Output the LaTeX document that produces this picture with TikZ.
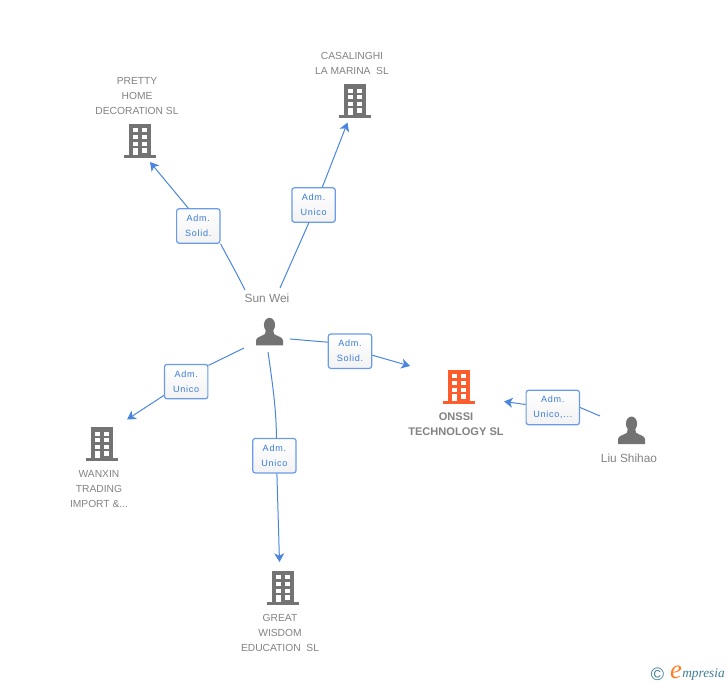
\documentclass[tikz,border=0pt]{standalone}
\usepackage{fontspec}
\setmainfont{Liberation Sans}
\newfontfamily\labelfont[LetterSpace=8]{Liberation Sans}
\newfontfamily\logofont{Liberation Serif}
\usetikzlibrary{arrows.meta}
\definecolor{icongray}{RGB}{115,115,115}
\definecolor{iconorange}{RGB}{255,92,46}
\definecolor{textgray}{RGB}{130,130,130}
\definecolor{linkblue}{RGB}{74,134,224}
\definecolor{boxblue}{RGB}{105,155,232}
\definecolor{admblue}{RGB}{58,123,219}
\definecolor{logoteal}{RGB}{60,125,150}
\tikzset{
  link/.style={draw=linkblue,line width=0.75pt},
  linkarrow/.style={link,-{Stealth[length=6.5pt,width=7.5pt,inset=1.8pt]}},
  admbox/.style={draw=boxblue,line width=0.9pt,rounded corners=1.8pt,top color=white,bottom color=white!95!black,
    minimum width=32.5pt,minimum height=25.8pt,inner sep=0pt,align=center,text=admblue,
    font=\labelfont\fontsize{6.8}{11.2}\selectfont},
  company/.style={text=textgray,align=center,inner sep=0pt,font=\fontsize{7.7}{11.25}\selectfont},
  personname/.style={text=textgray,inner sep=0pt,font=\fontsize{8.9}{11.25}\selectfont},
  pics/building/.style={code={
    \begin{scope}[yscale=-1]
    \fill [#1] (-11.3,0) rectangle (11.3,31);
    \fill [#1] (-15.8,31) rectangle (15.8,34);
    \foreach \wy in {4.3,11,17.6} {
      \fill [white] (-7.3,\wy) rectangle (-2.3,\wy+4);
      \fill [white] (2,\wy) rectangle (7.3,\wy+4);
    }
    \fill [white] (2,24) rectangle (7.3,28.5);
    \fill [white] (-7.3,24) rectangle (-2.5,31);
    \end{scope}
  }},
  pics/person/.style={code={
    \begin{scope}[yscale=-1]
    \fill [icongray] (0,7) ellipse (5.6 and 7.2);
    \fill [icongray] (-13.5,27.3) -- (-13.5,22.5) .. controls (-13.5,19) and (-8,18.5) .. (-4.5,16) -- (-3.5,11) -- (3.5,11) -- (4.5,16) .. controls (8,18.5) and (13.5,19) .. (13.5,22.5) -- (13.5,27.3) -- cycle ;
    \end{scope}
  }},
}

\begin{document}
\begin{tikzpicture}[x=0.75pt,y=0.75pt,yscale=-1,xscale=1]
\useasboundingbox (0,0) rectangle (728,685);

%Shape: icons
\pic at (140,124) {building=icongray};
\pic at (355,84.3) {building=icongray};
\pic at (102,427.3) {building=icongray};
\pic at (283,571) {building=icongray};
\pic at (459,370) {building=iconorange};
\pic at (269.5,318) {person};
\pic at (631.5,416.7) {person};

% Text Node
\node [company] (pretty) at (137,95.7) {PRETTY\\HOME\\DECORATION SL};
\node [company] (casalinghi) at (352,63.2) {CASALINGHI\\LA MARINA\ \ SL};
\node [company] (wanxin) at (99,488.7) {WANXIN\\TRADING\\IMPORT \&...};
\node [company] (great) at (280,632.7) {GREAT\\WISDOM\\EDUCATION\ \ SL};
\node [company,font=\bfseries\fontsize{8.3}{11.25}\selectfont] (onssi) at (456,424) {ONSSI\\TECHNOLOGY SL};
\node [personname] (sunwei) at (267,298.5) {Sun Wei};
\node [personname] (liushihao) at (629,458) {Liu Shihao};

% Label Nodes
\node [admbox] (admpretty) at (198.3,226) {Adm.\\Solid.};
\node [admbox] (admcasalinghi) at (313.6,205) {Adm.\\Unico};
\node [admbox] (admonssi) at (350,351.2) {Adm.\\Solid.};
\node [admbox] (admwanxin) at (186.2,381.6) {Adm.\\Unico};
\node [admbox] (admgreat) at (274.4,455.7) {Adm.\\Unico};
\node [admbox,minimum width=40pt] (admliu) at (552.8,407.5) {Adm.\\Unico,...};

% Free ends
\coordinate (prettyout) at (245,290);
\coordinate (prettyin) at (150,162);
\coordinate (casalinghiout) at (280,288);
\coordinate (casalinghiin) at (347.5,122.5);
\coordinate (onssiout) at (290,339);
\coordinate (onssiin) at (410,366);
\coordinate (wanxinout) at (244,348);
\coordinate (wanxinin) at (127,419.5);
\coordinate (greatout) at (268,352);
\coordinate (greatin) at (279.5,562);
\coordinate (liuout) at (600,416);
\coordinate (liuin) at (504,401.5);

%Connectors
\draw [link] (prettyout) .. controls (236,272) and (228,258) .. (admpretty.south east);
\draw [linkarrow] (admpretty.north) ++(-10,0) -- (prettyin);
\draw [link] (casalinghiout) -- (admcasalinghi.255);
\draw [linkarrow] (admcasalinghi.north) ++(8.7,0) -- (casalinghiin);
\draw [link] (onssiout) -- (admonssi.158);
\draw [linkarrow] (admonssi.east) ++(0,4) -- (onssiin);
\draw [link] (wanxinout) -- (admwanxin.36);
\draw [linkarrow] (admwanxin.south west) ++(0,-4) -- (wanxinin);
\draw [link] (greatout) .. controls (272,380) and (276.5,410) .. ([xshift=1.5pt]admgreat.north);
\draw [linkarrow] (admgreat.south) ++(2.5,0) -- (greatin);
\draw [link] (liuout) -- (admliu.east);
\draw [linkarrow] (admliu.west) ++(0,-3) -- (liuin);

% Logo
\node [text=logoteal,inner sep=0pt,font=\fontsize{13.5}{14}\selectfont] (copyr) at (657.5,674) {©};
\node [text=iconorange!80!yellow,inner sep=0pt,font=\logofont\itshape\fontsize{20}{20}\selectfont] (logoe) at (676,672) {e};
\node [text=logoteal,inner sep=0pt,anchor=west,font=\logofont\itshape\fontsize{10}{10}\selectfont] (logotext) at (682,674.5) {mpresia};

\end{tikzpicture}
\end{document}
